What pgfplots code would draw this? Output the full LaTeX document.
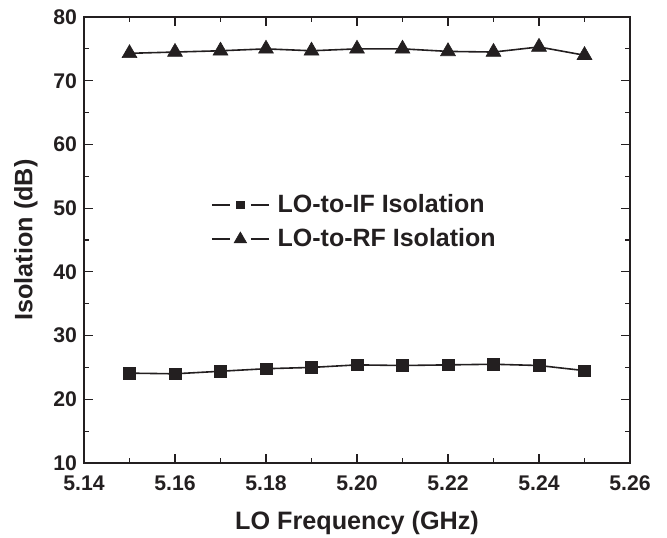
\documentclass[border=0pt]{standalone}
\usepackage{fontspec}
\setmainfont{Liberation Sans}
\usepackage{pgfplots}
\pgfplotsset{compat=1.18}
\definecolor{ink}{RGB}{35,31,32}

\begin{document}
\begin{tikzpicture}
  \begin{axis}[
    scale only axis,
    width=273pt,
    height=223pt,
    xmin=5.14, xmax=5.26,
    ymin=10, ymax=80,
    xtick={5.14,5.16,5.18,5.20,5.22,5.24,5.26},
    minor xtick={5.15,5.17,5.19,5.21,5.23,5.25},
    ytick={10,20,30,40,50,60,70,80},
    minor ytick={15,25,35,45,55,65,75},
    tick align=inside,
    major tick length=4.3pt,
    minor tick length=2.7pt,
    every tick/.style={ink, line width=0.6pt},
    axis line style={ink, line width=1pt},
    xticklabel style={yshift=-3pt, /pgf/number format/.cd, fixed, fixed zerofill, precision=2},
    /pgf/number format/assume math mode=true,
    tick label style={font=\fontsize{10.6}{12}\selectfont\bfseries, text=ink},
    label style={font=\fontsize{12.6}{15}\selectfont\bfseries, text=ink},
    xlabel={LO Frequency (GHz)},
    ylabel={Isolation (dB)},
    xlabel style={yshift=-3pt},
    ylabel style={yshift=1pt},
    legend style={draw=none, fill=none, at={(0.232,0.54)}, anchor=west,
      inner sep=0pt, font=\fontsize{12.5}{15}\selectfont\bfseries,
      text=ink, row sep=4.5pt, column sep=3pt, nodes={inner sep=1pt}},
    legend cell align=left,
    legend image code/.code={
      \draw[#1, mark=none] (0pt,0pt) -- (9pt,0pt);
      \draw[#1, mark=none] (19.5pt,0pt) -- (28.5pt,0pt);
      \draw[#1, only marks] plot coordinates {(14.25pt,0pt)};
    },
  ]
    \addplot[ink, line width=0.8pt, mark=square*, mark size=2.9pt,
      mark options={fill=ink, draw=ink, line width=0.3pt},
      legend image post style={mark size=1.8pt}]
      coordinates {
        (5.15,24.1) (5.16,24.0) (5.17,24.4) (5.18,24.8) (5.19,25.0)
        (5.20,25.4) (5.21,25.3) (5.22,25.4) (5.23,25.5) (5.24,25.3)
        (5.25,24.5)
      };
    \addlegendentry{LO-to-IF Isolation}
    \addplot[ink, line width=0.8pt, mark=triangle*, mark size=4.3pt,
      mark options={fill=ink, draw=ink, line width=0.3pt},
      legend image post style={mark size=3.6pt}]
      coordinates {
        (5.15,74.3) (5.16,74.5) (5.17,74.7) (5.18,75.0) (5.19,74.7)
        (5.20,75.0) (5.21,75.0) (5.22,74.6) (5.23,74.5) (5.24,75.3)
        (5.25,74.0)
      };
    \addlegendentry{LO-to-RF Isolation}
  \end{axis}
  \pgfresetboundingbox
  \path[use as bounding box] (current axis.south west) ++(-42pt,-37.5pt)
    rectangle ([shift={(18.5pt,8.5pt)}]current axis.north east);
\end{tikzpicture}
\end{document}
